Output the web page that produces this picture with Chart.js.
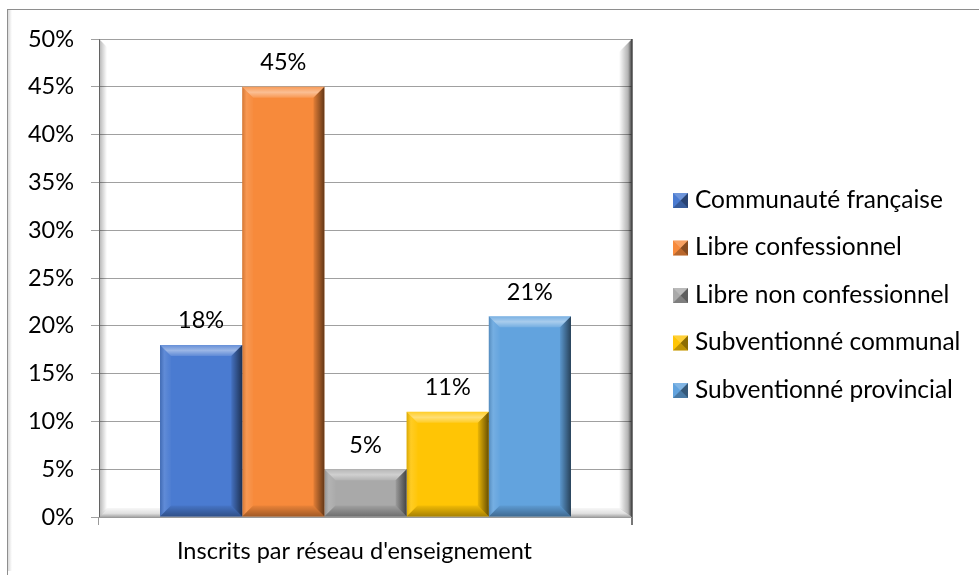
<!DOCTYPE html>
<html>
<head>
<meta charset="utf-8">
<script src="https://cdn.jsdelivr.net/npm/chart.js@4"></script>
<style>
  html, body { margin: 0; padding: 0; background: #fff; }
  #wrap { width: 979px; height: 575px; position: relative; }
</style>
</head>
<body>
<div id="wrap"><canvas id="chart" width="979" height="575"></canvas></div>
<script>
const categories = ["Inscrits par réseau d'enseignement"];
const seriesNames = ['Communauté française', 'Libre confessionnel', 'Libre non confessionnel', 'Subventionné communal', 'Subventionné provincial'];
const seriesValues = [18, 45, 5, 11, 21];
const seriesColors = ['#4a7bd1', '#f78a3b', '#a9a9a9', '#ffc505', '#62a3de'];
const yTicks = [0, 5, 10, 15, 20, 25, 30, 35, 40, 45, 50];

const FONT = 'Lato, "Open Sans", sans-serif';
const FSIZE = 23.5;

function poly(ctx, pts, fill) {
    ctx.beginPath();
    ctx.moveTo(pts[0][0], pts[0][1]);
    for (let i = 1; i < pts.length; i++) ctx.lineTo(pts[i][0], pts[i][1]);
    ctx.closePath();
    ctx.fillStyle = fill;
    ctx.fill();
}

// white background, outer frame and the back walls of the plot
const framePlugin = {
    id: 'frame',
    beforeDraw(chart) {
        const ctx = chart.ctx;
        ctx.save();
        ctx.fillStyle = '#fff';
        ctx.fillRect(0, 0, chart.width, chart.height);
        // soft shadow left of the frame
        const sh = ctx.createLinearGradient(7, 0, 12, 0);
        sh.addColorStop(0, 'rgba(0,0,0,0.18)');
        sh.addColorStop(1, 'rgba(0,0,0,0)');
        ctx.fillStyle = sh;
        ctx.fillRect(8, 10, 5, chart.height - 14);
        ctx.strokeStyle = '#8e8e8e';
        ctx.lineWidth = 1;
        ctx.strokeRect(7.5, 9.5, chart.width + 5, chart.height - 6);
        ctx.restore();
    },
    beforeDatasetsDraw(chart) {
        const ctx = chart.ctx;
        const a = chart.chartArea;
        ctx.save();
        // left wall
        let g = ctx.createLinearGradient(a.left, 0, a.left + 8, 0);
        g.addColorStop(0, 'rgba(0,0,0,0.30)');
        g.addColorStop(1, 'rgba(0,0,0,0)');
        poly(ctx, [[a.left, a.top], [a.left + 8, a.top + 8], [a.left + 8, a.bottom - 8], [a.left, a.bottom]], g);
        // floor
        g = ctx.createLinearGradient(0, a.bottom - 9, 0, a.bottom);
        g.addColorStop(0, 'rgba(0,0,0,0.03)');
        g.addColorStop(0.6, 'rgba(0,0,0,0.12)');
        g.addColorStop(1, 'rgba(0,0,0,0.35)');
        poly(ctx, [[a.left, a.bottom], [a.left + 8, a.bottom - 9], [a.right - 12, a.bottom - 9], [a.right, a.bottom]], g);
        // right wall
        g = ctx.createLinearGradient(a.right - 13, 0, a.right, 0);
        g.addColorStop(0, 'rgba(0,0,0,0)');
        g.addColorStop(0.7, 'rgba(0,0,0,0.30)');
        g.addColorStop(1, 'rgba(0,0,0,0.75)');
        poly(ctx, [[a.right, a.top], [a.right - 13, a.top + 13], [a.right - 13, a.bottom - 9], [a.right, a.bottom]], g);
        ctx.strokeStyle = '#4a4a4a';
        ctx.lineWidth = 1.5;
        ctx.beginPath();
        ctx.moveTo(a.right, a.top);
        ctx.lineTo(a.right, a.bottom + 8);
        ctx.stroke();
        // floor line and left corner tick
        ctx.strokeStyle = '#9a9a9a';
        ctx.lineWidth = 1;
        ctx.beginPath();
        ctx.moveTo(a.left, a.bottom + 0.5);
        ctx.lineTo(a.right, a.bottom + 0.5);
        ctx.moveTo(a.left - 0.5, a.bottom);
        ctx.lineTo(a.left - 0.5, a.bottom + 8);
        ctx.stroke();
        ctx.restore();
    }
};

// bevel shading on each bar, value labels above
const bevelPlugin = {
    id: 'bevel',
    afterDatasetsDraw(chart) {
        const ctx = chart.ctx;
        ctx.save();
        chart.data.datasets.forEach((ds, i) => {
            const meta = chart.getDatasetMeta(i);
            meta.data.forEach((bar, j) => {
                const p = bar.getProps(['x', 'y', 'base', 'width'], true);
                const l = p.x - p.width / 2, r = p.x + p.width / 2, t = p.y, b = p.base;
                const s = Math.min(11, (b - t) / 2, p.width / 2);
                let g = ctx.createLinearGradient(0, t, 0, t + s);
                g.addColorStop(0, 'rgba(255,255,255,0.15)');
                g.addColorStop(0.5, 'rgba(255,255,255,0.45)');
                g.addColorStop(1, 'rgba(255,255,255,0.12)');
                poly(ctx, [[l, t], [r, t], [r - s, t + s], [l + s, t + s]], g);
                g = ctx.createLinearGradient(l, 0, l + s, 0);
                g.addColorStop(0, 'rgba(0,0,0,0.15)');
                g.addColorStop(0.4, 'rgba(255,255,255,0.12)');
                g.addColorStop(1, 'rgba(255,255,255,0.02)');
                poly(ctx, [[l, t], [l + s, t + s], [l + s, b - s], [l, b]], g);
                g = ctx.createLinearGradient(r - s, 0, r, 0);
                g.addColorStop(0, 'rgba(0,0,0,0.08)');
                g.addColorStop(1, 'rgba(0,0,0,0.60)');
                poly(ctx, [[r, t], [r, b], [r - s, b - s], [r - s, t + s]], g);
                g = ctx.createLinearGradient(0, b - s, 0, b);
                g.addColorStop(0, 'rgba(0,0,0,0.05)');
                g.addColorStop(1, 'rgba(0,0,0,0.35)');
                poly(ctx, [[l, b], [l + s, b - s], [r - s, b - s], [r, b]], g);

                ctx.fillStyle = '#000';
                ctx.font = FSIZE + 'px ' + FONT;
                ctx.textAlign = 'center';
                ctx.textBaseline = 'middle';
                ctx.fillText(ds.data[j] + '%', p.x, t - 24);
            });
        });
        ctx.restore();
    }
};

const legendPlugin = {
    id: 'sideLegend',
    afterDraw(chart) {
        const ctx = chart.ctx;
        ctx.save();
        ctx.font = '24.5px ' + FONT;
        ctx.textBaseline = 'middle';
        ctx.textAlign = 'left';
        chart.data.datasets.forEach((ds, i) => {
            const cy = 200 + i * 47.5;
            const x = 673, y = cy - 7, s = 15;
            ctx.fillStyle = ds.backgroundColor;
            ctx.fillRect(x, y, s, s);
            poly(ctx, [[x + s, y], [x + s, y + s], [x + s / 2, y + s / 2]], 'rgba(0,0,0,0.45)');
            poly(ctx, [[x, y + s], [x + s, y + s], [x + s / 2, y + s / 2]], 'rgba(0,0,0,0.25)');
            poly(ctx, [[x, y], [x + s, y], [x + s / 2, y + s / 2]], 'rgba(255,255,255,0.2)');
            ctx.fillStyle = '#000';
            ctx.fillText(ds.label, 695, cy);
        });
        ctx.restore();
    }
};

const chartData = {
    labels: categories,
    datasets: seriesNames.map((name, i) => ({
        label: name,
        data: [seriesValues[i]],
        backgroundColor: seriesColors[i],
        borderWidth: 0,
        categoryPercentage: 0.771,
        barPercentage: 1.0
    }))
};

new Chart(document.getElementById('chart').getContext('2d'), {
    type: 'bar',
    data: chartData,
    options: {
        responsive: false,
        animation: false,
        layout: { padding: { left: 0, top: 39, right: 347, bottom: 0 } },
        scales: {
            y: {
                min: 0,
                max: 50,
                afterFit: (scale) => { scale.width = 99; },
                afterBuildTicks: (scale) => { scale.ticks = yTicks.map(v => ({ value: v })); },
                ticks: {
                    padding: 17,
                    color: '#000',
                    font: { family: FONT, size: FSIZE },
                    callback: (v) => v + '%'
                },
                grid: { color: '#a0a0a0', lineWidth: 1, tickLength: 8 },
                border: { display: true, color: '#8a8a8a', width: 1 }
            },
            x: {
                afterFit: (scale) => { scale.height = 58; },
                grid: { display: false, drawTicks: false },
                border: { display: false },
                ticks: {
                    padding: 20,
                    labelOffset: -11,
                    color: '#000',
                    font: { family: FONT, size: FSIZE }
                }
            }
        },
        plugins: {
            legend: { display: false },
            tooltip: { enabled: false }
        }
    },
    plugins: [framePlugin, bevelPlugin, legendPlugin]
});
</script>
</body>
</html>
